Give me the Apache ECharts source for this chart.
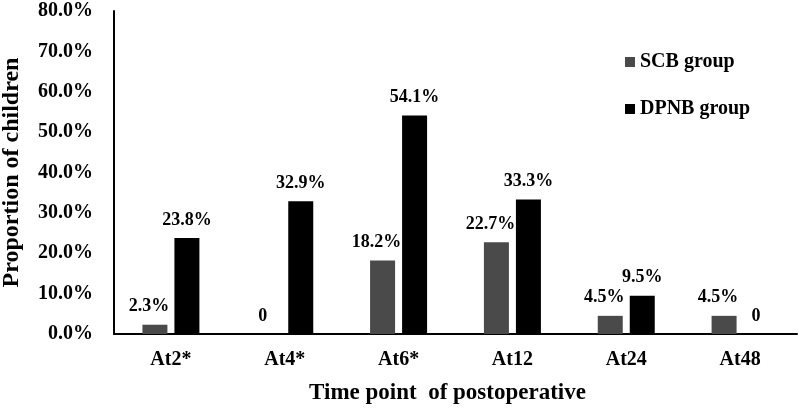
<!DOCTYPE html>
<html>
<head>
<meta charset="utf-8">
<script src="https://cdn.jsdelivr.net/npm/echarts@6/dist/echarts.min.js"></script>
<style>
html, body { margin: 0; padding: 0; background: #fff; }
#chart { width: 799px; height: 409px; }
</style>
</head>
<body>
<div id="chart"></div>
<script>
// time points and proportions (%)
var timePoints = ['At2*', 'At4*', 'At6*', 'At12', 'At24', 'At48'];
var scbData = [2.3, 0, 18.2, 22.7, 4.5, 4.5];
var dpnbData = [23.8, 32.9, 54.1, 33.3, 9.5, 0];
var seriesNames = ['SCB group', 'DPNB group'];

var font = '"Liberation Serif", "Times New Roman", serif';
var chart = echarts.init(document.getElementById('chart'));

function pctLabel(p) {
    return p.value === 0 ? '0' : p.value.toFixed(1) + '%';
}

var option = {
    animation: false,
    grid: { left: 114, right: 2, top: 11, bottom: 75, containLabel: false, outerBoundsMode: 'none' },
    legend: {
        orient: 'vertical',
        left: 620,
        top: 47,
        itemWidth: 10,
        itemHeight: 10,
        itemGap: 27,
        icon: 'rect',
        textStyle: { fontFamily: font, fontWeight: 'bold', fontSize: 20, color: '#000' },
        data: seriesNames
    },
    xAxis: {
        type: 'category',
        data: timePoints,
        name: 'Time point  of postoperative',
        nameLocation: 'middle',
        nameGap: 48,
        nameTextStyle: { fontFamily: font, fontWeight: 'bold', fontSize: 23, color: '#000', padding: [0, 16, 0, 0] },
        axisLine: { lineStyle: { color: '#000', width: 2 } },
        axisTick: { show: false },
        axisLabel: { fontFamily: font, fontWeight: 'bold', fontSize: 20, color: '#000', margin: 16 }
    },
    yAxis: {
        type: 'value',
        min: 0,
        max: 80,
        interval: 10,
        name: 'Proportion of children',
        nameLocation: 'middle',
        nameGap: 90,
        nameTextStyle: { fontFamily: font, fontWeight: 'bold', fontSize: 24, color: '#000' },
        axisLine: { show: true, lineStyle: { color: '#000', width: 2 } },
        axisTick: { show: false },
        splitLine: { show: false },
        axisLabel: {
            fontFamily: font, fontWeight: 'bold', fontSize: 20, color: '#000', margin: 21,
            formatter: function (v) { return v.toFixed(1) + '%'; }
        }
    },
    series: [{
        name: seriesNames[0],
        type: 'bar',
        data: scbData,
        barWidth: 25,
        barGap: '28%',
        itemStyle: { color: '#4a4a4a' },
        label: {
            show: true, position: 'top', distance: 9, offset: [-6, 0],
            fontFamily: font, fontWeight: 'bold', fontSize: 18, color: '#000',
            formatter: pctLabel
        }
    }, {
        name: seriesNames[1],
        type: 'bar',
        data: dpnbData,
        barWidth: 25,
        barGap: '28%',
        itemStyle: { color: '#000' },
        label: {
            show: true, position: 'top', distance: 9,
            fontFamily: font, fontWeight: 'bold', fontSize: 18, color: '#000',
            formatter: pctLabel
        }
    }]
};
chart.setOption(option);
</script>
</body>
</html>
